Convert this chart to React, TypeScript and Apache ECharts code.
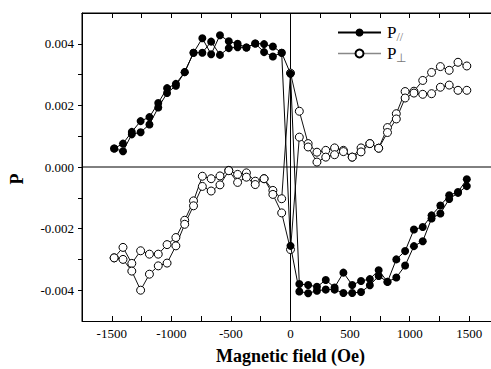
import React, { useEffect, useRef } from "react";
import * as echarts from "echarts";

// Magnetic field values (Oe)
const fieldValues: number[] = [
  -1480, -1406, -1332, -1258, -1184, -1110, -1036, -962, -888, -814, -740,
  -666, -592, -518, -444, -370, -296, -222, -148, -74, 0,
  74, 148, 222, 296, 370, 444, 518, 592, 666, 740,
  814, 888, 962, 1036, 1110, 1184, 1258, 1332, 1406, 1480,
];

// P// (filled circles), two sweep branches
const pParA: number[] = [
  0.0006, 0.00076, 0.00114, 0.00149, 0.00162, 0.00208, 0.00256, 0.0027, 0.00308, 0.00371, 0.00418,
  0.00366, 0.00428, 0.00408, 0.004, 0.00388, 0.00401, 0.00399, 0.00391, 0.00371, 0.00303,
  -0.0038, -0.00383, -0.00389, -0.00367, -0.00391, -0.00343, -0.00383, -0.0037, -0.00364, -0.00335,
  -0.00373, -0.003, -0.00273, -0.00203, -0.00195, -0.00157, -0.00125, -0.00092, -0.00081, -0.0004,
];
const pParB: number[] = [
  0.0006, 0.00051, 0.00106, 0.00113, 0.00138, 0.00193, 0.0024, 0.00264, 0.00308, 0.00371, 0.00371,
  0.00407, 0.00364, 0.00386, 0.00389, 0.00388, 0.00401, 0.00373, 0.00359, 0.00371, -0.00256,
  -0.00404, -0.0041, -0.00402, -0.00398, -0.00398, -0.00409, -0.00409, -0.00406, -0.00384, -0.00354,
  -0.00373, -0.00359, -0.0032, -0.00257, -0.00241, -0.00167, -0.00151, -0.00104, -0.00084, -0.00062,
];

// P⊥ (open circles), two sweep branches
const pPerpA: number[] = [
  -0.00295, -0.00261, -0.00313, -0.00272, -0.00283, -0.00283, -0.00252, -0.00229, -0.00173, -0.0011, -0.0003,
  -0.00038, -0.00029, -0.00011, -0.00024, -0.00019, -0.00046, -0.00038, -0.00076, -0.00103, 0.00305,
  0.00181, 0.00076, 0.00048, 0.00054, 0.00062, 0.00054, 0.00032, 0.00062, 0.00076, 0.00061,
  0.00128, 0.00173, 0.00245, 0.00246, 0.00281, 0.00307, 0.00326, 0.00314, 0.0034, 0.00328,
];
const pPerpB: number[] = [
  -0.00295, -0.003, -0.00338, -0.004, -0.00348, -0.00321, -0.00312, -0.00256, -0.00186, -0.00126, -0.00063,
  -0.00078, -0.00058, -0.00012, -0.0005, -0.00033, -0.00057, -0.00038, -0.00089, -0.00149, -0.00268,
  0.00097, 0.00065, 0.00016, 0.00032, 0.0004, 0.0005, 0.00032, 0.00049, 0.00076, 0.00061,
  0.00112, 0.00156, 0.00224, 0.0024, 0.00236, 0.00238, 0.00259, 0.00266, 0.00249, 0.00249,
];

// Axis ranges and tick values
const xRange: number[] = [-1750, 1750];
const yRange: number[] = [-0.005, 0.005];
const xLabelTicks: number[] = [-1500, -1000, -500, 0, 500, 1000, 1500];
const xAllTicks: number[] = [-1500, -1250, -1000, -750, -500, -250, 0, 250, 500, 750, 1000, 1250, 1500];
const yLabelTicks: number[] = [-0.004, -0.002, 0, 0.002, 0.004];
const yAllTicks: number[] = [-0.004, -0.003, -0.002, -0.001, 0, 0.001, 0.002, 0.003, 0.004];

const FONT = "Liberation Serif";

export default function App() {
  const ref = useRef<HTMLDivElement>(null);

  useEffect(() => {
    if (!ref.current) return;
    const chart = echarts.init(ref.current, undefined, { renderer: "svg" });

    const toData = (arr: number[]) => fieldValues.map((x, i) => [x, arr[i]]);

    const filled = (data: number[][]) => ({
      type: "line",
      name: "P//",
      data,
      symbol: "circle",
      symbolSize: 8,
      lineStyle: { color: "#000", width: 1 },
      itemStyle: { color: "#000" },
      z: 4,
    });
    const open = (data: number[][]) => ({
      type: "line",
      name: "P⊥",
      data,
      symbol: "circle",
      symbolSize: 8,
      lineStyle: { color: "#111", width: 1 },
      itemStyle: { color: "#fff", borderColor: "#000", borderWidth: 1 },
      z: 3,
    });
    // reference / frame lines built from the axis ranges
    const refLine = (data: number[][]) => ({
      type: "line",
      data,
      symbol: "none",
      silent: true,
      clip: false,
      lineStyle: { color: "#000", width: 1 },
      z: 1,
    });

    chart.setOption({
      animation: false,
      grid: {
        left: 82,
        right: -8,
        top: 13,
        bottom: 48,
        outerBoundsMode: "none",
      },
      legend: {
        orient: "vertical",
        left: 332,
        top: 19,
        itemWidth: 43,
        itemHeight: 10,
        itemGap: 2,
        selectedMode: false,
        data: [
          { name: "P//" },
          { name: "P⊥", lineStyle: { color: "#888", width: 1.5 } },
        ],
        formatter: (name: string) =>
          name === "P//" ? "{p|P}{s|//}" : "{p|P}{s|⊥}",
        textStyle: {
          fontFamily: FONT,
          padding: [0, 0, 0, 1],
          rich: {
            p: { fontSize: 17, color: "#000", fontFamily: FONT, lineHeight: 20 },
            s: { fontSize: 12, color: "#777", fontFamily: FONT, padding: [9, 0, 0, 0] },
          },
        },
      },
      xAxis: [
        {
          type: "value",
          min: xRange[0],
          max: xRange[1],
          position: "bottom",
          name: "Magnetic field (Oe)",
          nameLocation: "middle",
          nameGap: 26,
          nameTextStyle: { fontFamily: FONT, fontSize: 18, fontWeight: "bold", color: "#000" },
          splitLine: { show: false },
          axisLine: { show: true, onZero: false, lineStyle: { color: "#000", width: 1 } },
          axisTick: { show: true, inside: true, length: 5, customValues: xAllTicks },
          axisLabel: {
            show: true,
            customValues: xLabelTicks,
            margin: 6,
            fontSize: 13,
            color: "#000",
            fontFamily: FONT,
            formatter: (v: number) => String(v),
          },
        },
        {
          type: "value",
          min: xRange[0],
          max: xRange[1],
          position: "top",
          splitLine: { show: false },
          axisLine: { show: true, onZero: false, lineStyle: { color: "#000", width: 1 } },
          axisTick: { show: true, inside: true, length: 5, customValues: xAllTicks },
          axisLabel: { show: false },
        },
      ],
      yAxis: [
        {
          type: "value",
          min: yRange[0],
          max: yRange[1],
          position: "left",
          name: "P",
          nameLocation: "middle",
          nameGap: 56,
          nameRotate: 90,
          nameTextStyle: { fontFamily: FONT, fontSize: 18, fontWeight: "bold", color: "#000", padding: [0, 0, 0, -24] },
          splitLine: { show: false },
          axisLine: { show: true, onZero: false, lineStyle: { color: "#000", width: 1 } },
          axisTick: { show: true, inside: false, length: 4, customValues: yAllTicks },
          axisLabel: {
            show: true,
            customValues: yLabelTicks,
            margin: 8,
            fontSize: 13,
            color: "#000",
            fontFamily: FONT,
            formatter: (v: number) => v.toFixed(3),
          },
        },
      ],
      series: [
        refLine([[0, yRange[0]], [0, yRange[1]]]),
        refLine([[xRange[0], 0], [xRange[1], 0]]),
        refLine([[xRange[0], yRange[1]], [xRange[1], yRange[1]]]),
        refLine([[xRange[0], yRange[0]], [xRange[0], yRange[1]]]),
        open(toData(pPerpA)),
        open(toData(pPerpB)),
        filled(toData(pParA)),
        filled(toData(pParB)),
      ],
    });

    return () => chart.dispose();
  }, []);

  return (
    <div ref={ref} style={{ position: "absolute", left: 0, top: 0, width: 491, height: 369 }} />
  );
}
